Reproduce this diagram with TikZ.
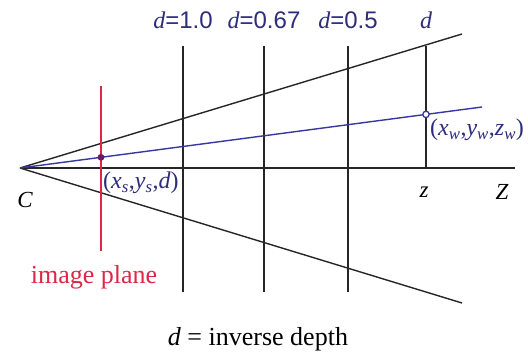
\documentclass[tikz,border=0pt]{standalone}
\usepackage{fontspec}
\setmainfont{Liberation Serif}
\newfontfamily\numfont{Liberation Sans}
\definecolor{navy}{RGB}{45,45,125}
\definecolor{bline}{RGB}{55,55,160}
\definecolor{rline}{RGB}{220,40,70}
\definecolor{pdot}{RGB}{110,25,95}
\newcommand{\vsub}[2]{\textit{#1}\textsubscript{\textit{#2}}}
\begin{document}
\begin{tikzpicture}[x=1pt,y=-1pt,
  blk/.style={line width=1.4pt,black!85},
  ray/.style={line width=1.4pt,bline},
  lab/.style={font=\fontsize{24}{28}\selectfont,text=navy,inner sep=0pt},
  coordlab/.style={font=\fontsize{24}{28}\selectfont,text=navy,inner sep=0pt,anchor=west},
  axlab/.style={font=\fontsize{23}{27}\selectfont\itshape,inner sep=0pt}]
\useasboundingbox (0,0) rectangle (528,354);
\fill[white] (0,0) rectangle (528,354);
% coordinates
\coordinate (C) at (20,168);
\coordinate (Zend) at (515,168);
\coordinate (U) at (462,34);
\coordinate (L) at (462,303);
\coordinate (B) at (482,107);
\coordinate (r1) at (101,86);
\coordinate (r2) at (101,251);
\foreach \n/\x in {a/183,b/264,c/348}{
  \coordinate (\n1) at (\x,46);
  \coordinate (\n2) at (\x,292);
}
\coordinate (d1) at (426,46);
\coordinate (d2) at (426,168);
% frustum and axis
\draw[blk] (C) -- (U);
\draw[blk] (C) -- (L);
\draw[blk] (C) -- (Zend);
\foreach \n in {a,b,c}{\draw[blk] (\n1) -- (\n2);}
\draw[blk] (d1) -- (d2);
% image plane
\draw[line width=1.5pt,rline] (r1) -- (r2);
% ray
\draw[ray] (C) -- (B);
\fill[pdot] (101,157.3) circle (3.4pt) coordinate (ps);
\draw[line width=1.3pt,bline,fill=white] (426,114.4) circle (3.2pt) coordinate (pw);
% labels
\node[lab] (la) at (183,20) {\itshape d\upshape\numfont =1.0};
\node[lab] (lb) at (264,20) {\itshape d\upshape\numfont =0.67};
\node[lab] (lc) at (348,20) {\itshape d\upshape\numfont =0.5};
\node[lab] (ld) at (426,20) {\itshape d};
\node[coordlab] (xs) at (103,183) {(\vsub{x}{s},\vsub{y}{s},\textit{d})};
\node[coordlab] (xw) at (430,130) {(\vsub{x}{w},\vsub{y}{w},\vsub{z}{w})};
\node[axlab] (lC) at (25,200) {C};
\node[axlab] (lz) at (424,192) {z};
\node[axlab] (lZ) at (502,192) {Z};
\node[font=\fontsize{26}{30}\selectfont,text=rline,inner sep=0pt] (ip) at (94,277) {image plane};
\node[font=\fontsize{26}{30}\selectfont,inner sep=0pt] (inv) at (258,339) {\itshape d\upshape{} = inverse depth};
\end{tikzpicture}
\end{document}
